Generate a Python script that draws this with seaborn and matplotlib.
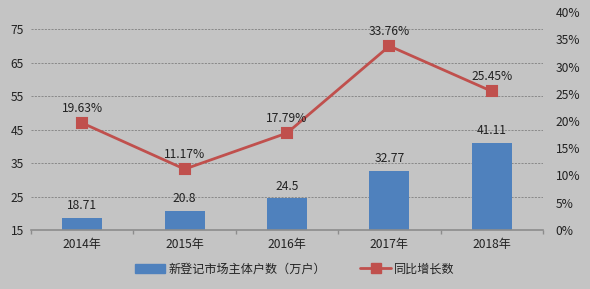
import matplotlib
matplotlib.use("Agg")
import matplotlib.pyplot as plt
import seaborn as sns
import pandas as pd
from matplotlib.patches import Patch
from matplotlib.lines import Line2D

years = ["2014年", "2015年", "2016年", "2017年", "2018年"]
new_entities = [18.71, 20.8, 24.5, 32.77, 41.11]
growth_pct = [19.63, 11.17, 17.79, 33.76, 25.45]
bar_labels = ["18.71", "20.8", "24.5", "32.77", "41.11"]
line_labels = ["19.63%", "11.17%", "17.79%", "33.76%", "25.45%"]
left_ticks = [15, 25, 35, 45, 55, 65, 75]
right_ticks = [0, 5, 10, 15, 20, 25, 30, 35, 40]
legend_bar = "新登记市场主体户数（万户）"
legend_line = "同比增长数"

sns.set_theme(style="white")
plt.rcParams['font.family'] = ['Noto Sans CJK SC', 'DejaVu Sans']

bg = "#C4C4C4"
bar_c = "#4F81BD"
line_c = "#C0504D"
txt_c = "#222222"
fs = 8.7

df = pd.DataFrame({"year": years, "val": new_entities, "pct": growth_pct})

fig = plt.figure(figsize=(5.9, 2.89), dpi=100, facecolor=bg)
ax = fig.add_axes([31/590, 59/289, 512/590, 218/289])
ax.set_facecolor(bg)

bottom = 15
sns.barplot(data=df, x="year", y="val", color=bar_c, width=0.39, ax=ax,
            saturation=1, linewidth=0, edgecolor=bar_c)
for p in ax.patches:
    h = p.get_height()
    p.set_y(bottom)
    p.set_height(h - bottom)
ax.set_ylim(15, 80.2)
ax.set_xlim(-0.5, 4.5)
ax.set_yticks(left_ticks)
ax.set_yticklabels([str(t) for t in left_ticks], fontsize=fs, color=txt_c)
ax.tick_params(axis='y', length=0, pad=5)
ax.tick_params(axis='x', which='major', length=0, pad=6, labelsize=fs, colors=txt_c)
ax.set_xticks([-0.5, 0.5, 1.5, 2.5, 3.5, 4.5], minor=True)
ax.tick_params(axis='x', which='minor', bottom=True, length=3, width=1, color="#8C8C8C", direction="out")
ax.set_xlabel("")
ax.set_ylabel("")
for y in left_ticks[1:]:
    ax.axhline(y, color="#808080", lw=0.6, ls=(0, (2.5, 1.5)), zorder=0)
for s in ["top", "right", "left"]:
    ax.spines[s].set_visible(False)
ax.spines["bottom"].set_color("#8C8C8C")
ax.spines["bottom"].set_linewidth(1.2)

for i, v in enumerate(new_entities):
    ax.text(i, v + 1.6, bar_labels[i], ha="center", va="bottom", fontsize=fs, color=txt_c)

ax2 = ax.twinx()
sns.pointplot(data=df, x="year", y="pct", color=line_c, markers="s",
              ax=ax2, markersize=7, linewidth=2)
ax2.set_ylim(0, 40)
ax2.set_xlim(-0.5, 4.5)
ax2.set_yticks(right_ticks)
ax2.set_yticklabels([f"{t}%" for t in right_ticks], fontsize=fs, color=txt_c)
ax2.tick_params(axis='y', length=0, pad=9)
ax2.set_ylabel("")
ax2.set_xlabel("")
for s in ["top", "right", "left", "bottom"]:
    ax2.spines[s].set_visible(False)
ax2.grid(False)

for i, v in enumerate(growth_pct):
    ax2.text(i, v + 1.5, line_labels[i], ha="center", va="bottom", fontsize=fs, color=txt_c)

handles = [Patch(facecolor=bar_c, edgecolor=bar_c),
           Line2D([0], [0], color=line_c, lw=2, marker="s", markersize=7)]
fig.legend(handles, [legend_bar, legend_line], loc="center", bbox_to_anchor=(0.5, 20/289),
           ncol=2, frameon=False, fontsize=fs, handlelength=2.5, columnspacing=2.8,
           handletextpad=0.3, labelcolor=txt_c)

fig.savefig("out.png", dpi=100, facecolor=bg)
